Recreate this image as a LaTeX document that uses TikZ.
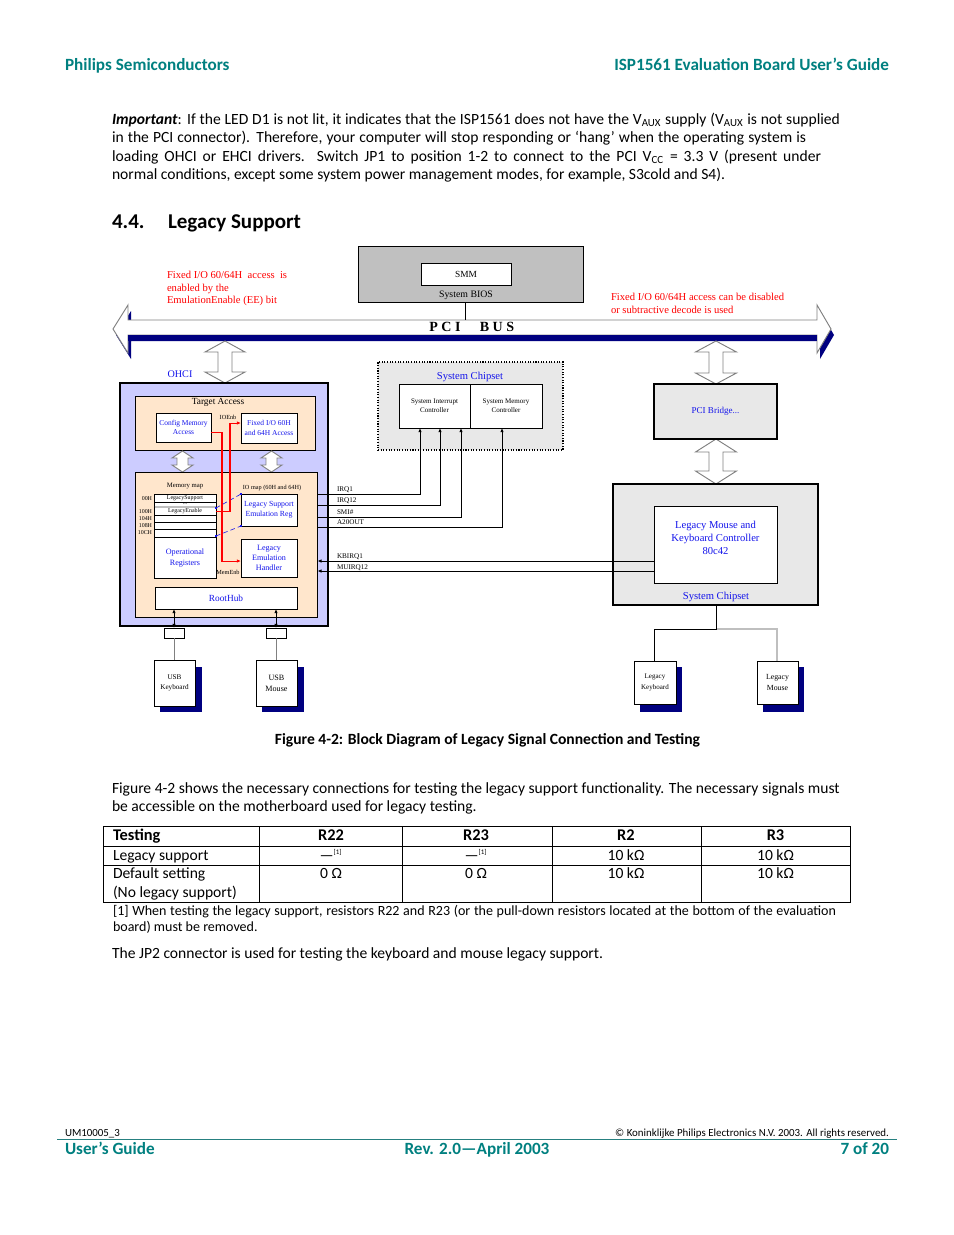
\documentclass[tikz,border=0pt]{standalone}
\usepackage{fontspec}
\setmainfont{Carlito}
\newfontfamily\dfont{Liberation Serif}
\usetikzlibrary{arrows.meta,fit}
\newdimen\px \px=0.6415pt
\definecolor{teal1}{RGB}{0,128,128}
\definecolor{navy1}{RGB}{0,0,128}
\definecolor{lav}{RGB}{204,204,255}
\definecolor{peach}{RGB}{255,230,204}
\definecolor{lgray}{RGB}{232,232,232}
\definecolor{mgray}{RGB}{192,192,192}
\definecolor{blue1}{RGB}{20,20,235}
\definecolor{red1}{RGB}{255,0,0}
\newcommand\dff[2]{\dfont\fontsize{#1}{#2}\selectfont}
\newcommand\vdarr[6]{%
 \draw[gray, fill=white, line width=0.6pt] (#1,#2) -- ({#1+#4},{#2+#6}) -- ({#1+#5},{#2+#6}) -- ({#1+#5},{#3-#6}) -- ({#1+#4},{#3-#6}) -- (#1,#3) -- ({#1-#4},{#3-#6}) -- ({#1-#5},{#3-#6}) -- ({#1-#5},{#2+#6}) -- ({#1-#4},{#2+#6}) -- cycle;}
\tikzset{
 txt/.style={inner sep=0pt, outer sep=0pt, anchor=base west, font=\fontsize{10}{12}\selectfont},
 box/.style={draw, fill=white, inner sep=0pt, outer sep=0pt, line width=0.6pt},
 lbl/.style={inner sep=0pt, outer sep=0pt, align=center},
 arr/.style={-{Latex[length=2.6pt,width=2.2pt]}},
 arrb/.style={{Latex[length=2.6pt,width=2.2pt]}-{Latex[length=2.6pt,width=2.2pt]}},
 sig/.style={line width=0.6pt},
 redl/.style={red1, line width=0.65pt},
 bdash/.style={blue1, densely dashed, line width=0.4pt}
}
\begin{document}
\begin{tikzpicture}[x=1\px,y=-1\px]
\fill[white] (0,0) rectangle (954,1235);
\useasboundingbox (0,0) rectangle (954,1235);

% ---------- header ----------
\node[txt, font=\fontsize{11}{13}\selectfont\bfseries, text=teal1] (h1) at (65,70) {Philips Semiconductors};
\node[txt, anchor=base east, font=\fontsize{11}{13}\selectfont\bfseries, text=teal1] (h2) at (889,70) {ISP1561 Evaluation Board User’s Guide};

% ---------- paragraph ----------
\node[txt] (p1) at (112,124) {\makebox[728\px][s]{\textbf{\textit{Important}}: If the LED D1 is not lit, it indicates that the ISP1561 does not have the V\textsubscript{AUX} supply (V\textsubscript{AUX} is not supplied}};
\node[txt] (p2) at (112,142) {\makebox[694\px][s]{in the PCI connector). Therefore, your computer will stop responding or ‘hang’ when the operating system is}};
\node[txt] (p3) at (112,161) {\makebox[709\px][s]{loading OHCI or EHCI drivers. Switch JP1 to position 1-2 to connect to the PCI V\textsubscript{CC} = 3.3 V (present under}};
\node[txt] (p4) at (112,179) {normal conditions, except some system power management modes, for example, S3cold and S4).};

\node[txt, font=\fontsize{13.5}{16}\selectfont\bfseries] (s1) at (112,228) {4.4.};
\node[txt, font=\fontsize{13.5}{16}\selectfont\bfseries] (s2) at (168,228) {Legacy Support};

% ---------- diagram: top ----------
\node[box, fill=mgray, fit={(358,246) (583,302)}] (smmo) {};
\node[box, fit={(421,263) (511,285)}] (smm) {};
\node[lbl, font=\dff{6}{7}] at (smm) {SMM};
\node[lbl, font=\dff{6.3}{7}] (bios) at (466,295) {System BIOS};

\node[lbl, anchor=west, align=left, text=red1, font=\dff{6.8}{8.3}] (rt1) at (167,288.5) {Fixed I/O 60/64H\ \ access\ \ is\\enabled by the\\EmulationEnable (EE) bit};
\node[lbl, anchor=west, align=left, text=red1, font=\dff{6.8}{8.3}] (rt2) at (611,303.5) {Fixed I/O 60/64H access can be disabled\\or subtractive decode is used};

% PCI bus
\fill[navy1] (116,335) -- (131,311) -- (131,326) -- (820,326) -- (820,311) -- (834,335) -- (820,359) -- (820,341) -- (131,341) -- (131,359) -- cycle;
\draw[gray, fill=white, line width=0.6pt] (113,329) -- (128,305) -- (128,320) -- (817,320) -- (817,305) -- (831,329) -- (817,353) -- (817,335) -- (128,335) -- (128,353) -- cycle;
\fill[navy1] (128,335) rectangle (817,341);
\node[lbl, font=\dff{9}{10}\bfseries] (pci) at (445,326.5) {P C I};
\node[lbl, font=\dff{9}{10}\bfseries] (bus) at (497,326.5) {B U S};
\coordinate (busy) at (465,320);
\draw[sig] (smmo.south -| busy) -- (busy);

% hollow double arrows
\vdarr{225}{341}{383}{20}{7}{11}
\vdarr{716}{341}{384}{20.5}{7}{11}
\vdarr{716}{439}{484}{20.5}{7}{13}

% ---------- OHCI ----------
\node[draw, fill=lav, line width=1.4pt, inner sep=0pt, fit={(120,383) (328,626)}] (ohci) {};
\node[lbl, text=blue1, font=\dff{6.5}{7}] (ohcit) at (180,374) {OHCI};
\node[draw, fill=peach, line width=0.6pt, inner sep=0pt, fit={(135,396) (315,450)}] (ta) {};
\node[lbl, font=\dff{6}{7}] (tat) at (218,402) {Target Access};
\node[box, fit={(156,413) (211,442)}] (cfg) {};
\node[lbl, text=blue1, font=\dff{4.8}{6.2}] at (cfg) {Config Memory\\Access};
\node[box, fit={(241,413) (297,443)}] (fio) {};
\node[lbl, text=blue1, font=\dff{4.8}{6.2}] at (fio) {Fixed I/O 60H\\and 64H Access};
\node[lbl, font=\dff{4}{5}] (ioenb) at (228,417) {IOEnb};

\vdarr{182.5}{451}{472}{10.5}{5.5}{7}
\vdarr{271.5}{451}{472}{10.5}{5.5}{7}

\node[draw, fill=peach, line width=0.6pt, inner sep=0pt, fit={(135,472) (317,617)}] (ohl) {};
\node[lbl, font=\dff{4.3}{5}] (mmt) at (185,486) {Memory map};
\node[box, fit={(154,494) (216,578)}] (mm) {};
\draw[lightgray, line width=1.2pt] (154.5,507) -- (215.5,507);
\foreach \yy in {502,515,522,529,537} \draw[line width=0.5pt] (154,\yy) -- (216,\yy);
\node[lbl, font=\dff{3.8}{4}] at (185,498) {LegacySupport};
\node[lbl, font=\dff{3.8}{4}] at (185,504) {...};
\node[lbl, font=\dff{3.8}{4}] at (185,511.5) {LegacyEnable};
\node[lbl, text=blue1, font=\dff{5.2}{6.5}] (opr) at (185,558) {Operational\\Registers};
\node[lbl, anchor=east, font=\dff{3.8}{4}] at (152,498.5) {00H};
\node[lbl, anchor=east, font=\dff{3.8}{4}] at (152,511.5) {100H};
\node[lbl, anchor=east, font=\dff{3.8}{4}] at (152,518.5) {104H};
\node[lbl, anchor=east, font=\dff{3.8}{4}] at (152,525.5) {108H};
\node[lbl, anchor=east, font=\dff{3.8}{4}] at (152,532.5) {10CH};

\node[lbl, font=\dff{4}{5}] (iom) at (272,488) {IO map (60H and 64H)};
\node[box, fit={(241,494) (297,526)}] (lse) {};
\node[lbl, text=blue1, font=\dff{5}{6.5}] at (lse) {Legacy Support\\Emulation Reg};
\node[box, fit={(241,539) (297,577)}] (leh) {};
\node[lbl, text=blue1, font=\dff{5.2}{6.3}] at (leh) {Legacy\\Emulation\\Handler};
\node[lbl, font=\dff{4}{5}] (memenb) at (228,572) {MemEnb};
\node[box, fit={(155,587) (297,609)}] (rh) {};
\node[lbl, text=blue1, font=\dff{6}{7}] at (rh) {RootHub};

% blue dashed IO map lines
\draw[bdash] (mm.east |- 0,508) -- (lse.north west);
\draw[bdash] (mm.east |- 0,536) -- (lse.south west);
\foreach \p in {(216,508),(241,494),(216,536),(241,526)} \fill[blue1] \p ++(-1.4,-1.4) rectangle ++(2.8,2.8);

% red enable lines
\draw[redl, arr] (cfg.east |- 0,432) -- (222,432) -- (222,561) -- (leh.west |- 0,561);
\draw[redl, arr] (mm.east |- 0,511) -- (230,511) -- (230,423) -- (fio.west |- 0,423);

% ports and USB devices
\node[box, fit={(164,628) (184,638)}] (c1) {};
\node[box, fit={(266,628) (286,638)}] (c2) {};
\draw[arrb, line width=0.6pt] (c1.north |- rh.south) -- (c1.north);
\draw[arrb, line width=0.6pt] (c2.north |- rh.south) -- (c2.north);
\fill[navy1] (160,667) rectangle (202,712);
\node[box, fit={(154,660) (195,706)}] (uk) {};
\node[lbl, font=\dff{4.6}{6.5}] at (uk) {USB\\Keyboard};
\fill[navy1] (262,667) rectangle (304,712);
\node[box, fit={(256,660) (297,706)}] (um) {};
\node[lbl, font=\dff{5.2}{7}] at (um) {USB\\Mouse};
\draw[gray, line width=0.6pt] (c1.south) -- (uk.north -| c1.south);
\draw[gray, line width=0.6pt] (c2.south) -- (um.north -| c2.south);

% ---------- middle system chipset ----------
\node[draw, fill=lgray, densely dotted, line width=0.7pt, inner sep=0pt, fit={(378,362) (563,450)}] (msc) {};
\node[lbl, text=blue1, font=\dff{6.8}{8}] (msct) at (470,377) {System Chipset};
\node[box, fit={(399,384) (470,428)}] (sic) {};
\node[lbl, font=\dff{4.5}{6}] at (sic) {System Interrupt\\Controller};
\node[box, fit={(470,384) (542,428)}] (smc) {};
\node[lbl, font=\dff{4.5}{6}] at (smc) {System Memory\\Controller};

% signal lines
\draw[sig, arr] (ohl.east |- 0,494) -| (sic.south -| 420,0);
\draw[sig, arr] (ohl.east |- 0,505) -| (sic.south -| 440,0);
\draw[sig, arr] (ohl.east |- 0,517) -| (sic.south -| 461,0);
\draw[sig, arr] (ohl.east |- 0,527) -| (smc.south -| 502,0);
\node[lbl, anchor=base west, font=\dff{4.6}{5}] at (337,491) {IRQ1};
\node[lbl, anchor=base west, font=\dff{4.6}{5}] at (337,502) {IRQ12};
\node[lbl, anchor=base west, font=\dff{4.6}{5}] at (337,514) {SMI\#};
\node[lbl, anchor=base west, font=\dff{4.6}{5}] at (337,524.5) {A20OUT};

% ---------- right side ----------
\node[draw, fill=lgray, line width=0.7pt, inner sep=0pt, fit={(654,384) (777,439)}] (pcib) {};
\node[lbl, text=blue1, font=\dff{5.8}{7}] at (pcib) {PCI Bridge...};
\node[draw, fill=lgray, line width=1.4pt, inner sep=0pt, fit={(613,484) (818,605)}] (rsc) {};
\node[box, fit={(654,506) (777,583)}] (lmk) {};
\node[lbl, text=blue1, font=\dff{6.8}{8.3}] at (715.5,538) {Legacy Mouse and\\Keyboard Controller\\80c42};
\node[lbl, text=blue1, font=\dff{6.8}{8}] (rsct) at (716,597) {System Chipset};

\draw[sig, arr] (lmk.west |- 0,561) -- (ohl.east |- 0,561);
\draw[sig, arr] (lmk.west |- 0,571) -- (ohl.east |- 0,571);
\node[lbl, anchor=base west, font=\dff{4.6}{5}] at (337,558.5) {KBIRQ1};
\node[lbl, anchor=base west, font=\dff{4.6}{5}] at (337,569) {MUIRQ12};

\fill[navy1] (640,667) rectangle (682,712);
\node[box, fit={(634,661) (676,704)}] (lk) {};
\node[lbl, font=\dff{4.5}{6.5}] at (lk) {Legacy\\Keyboard};
\fill[navy1] (763,667) rectangle (804,712);
\node[box, fit={(757,661) (798,704)}] (lm) {};
\node[lbl, font=\dff{5}{7}] at (lm) {Legacy\\Mouse};
\coordinate (jn) at (716,629);
\draw[gray!50, line width=0.7pt] (jn) -| (lm.north -| 777,0);
\draw[sig] (rsc.south -| jn) -- (jn) -| (lk.north -| 654,0);

% ---------- caption and text ----------
\node[txt, anchor=base, font=\fontsize{10}{12}\selectfont\bfseries] (cap) at (487.5,744) {Figure 4-2: Block Diagram of Legacy Signal Connection and Testing};
\node[txt] (q1) at (112,793) {Figure 4-2 shows the necessary connections for testing the legacy support functionality. The necessary signals must};
\node[txt] (q2) at (112,811) {be accessible on the motherboard used for legacy testing.};

% ---------- table ----------
\draw[line width=0.6pt] (103,826) rectangle (850,902);
\draw[line width=0.6pt] (103,846) -- (850,846);
\draw[line width=0.6pt] (103,865) -- (850,865);
\foreach \xx in {259,402,552,701} \draw[line width=0.6pt] (\xx,826) -- (\xx,902);
\node[txt, font=\fontsize{10.5}{12}\selectfont\bfseries] at (113,840.5) {Testing};
\node[txt, anchor=base, font=\fontsize{10.5}{12}\selectfont\bfseries] at (331,840.5) {R22};
\node[txt, anchor=base, font=\fontsize{10.5}{12}\selectfont\bfseries] at (476,840.5) {R23};
\node[txt, anchor=base, font=\fontsize{10.5}{12}\selectfont\bfseries] at (626,840.5) {R2};
\node[txt, anchor=base, font=\fontsize{10.5}{12}\selectfont\bfseries] at (775.5,840.5) {R3};
\node[txt] at (113,860) {Legacy support};
\node[txt, anchor=base] at (331,860) {—\textsuperscript{\fontsize{4.5}{5}\selectfont[1]}};
\node[txt, anchor=base] at (476,860) {—\textsuperscript{\fontsize{4.5}{5}\selectfont[1]}};
\node[txt, anchor=base] at (626,860) {10 kΩ};
\node[txt, anchor=base] at (775.5,860) {10 kΩ};
\node[txt] at (113,878.5) {Default setting};
\node[txt] at (113,897) {(No legacy support)};
\node[txt, anchor=base] at (331,878.5) {0 Ω};
\node[txt, anchor=base] at (476,878.5) {0 Ω};
\node[txt, anchor=base] at (626,878.5) {10 kΩ};
\node[txt, anchor=base] at (775.5,878.5) {10 kΩ};
\node[txt, font=\fontsize{9}{11}\selectfont] at (113,915) {\makebox[723\px][s]{[1] When testing the legacy support, resistors R22 and R23 (or the pull-down resistors located at the bottom of the evaluation}};
\node[txt, font=\fontsize{9}{11}\selectfont] at (113,931) {board) must be removed.};
\node[txt] (q3) at (112,958) {The JP2 connector is used for testing the keyboard and mouse legacy support.};

% ---------- footer ----------
\node[txt, font=\fontsize{7}{8}\selectfont] (f1) at (65,1136) {UM10005\_3};
\node[txt, anchor=base east, font=\fontsize{7}{8}\selectfont] (f2) at (889,1136) {© Koninklijke Philips Electronics N.V. 2003. All rights reserved.};
\draw[teal1!70!gray, line width=0.6pt] (57,1139.5) -- (897,1139.5);
\node[txt, font=\fontsize{11}{13}\selectfont\bfseries, text=teal1] (f3) at (65,1154) {User’s Guide};
\node[txt, anchor=base, font=\fontsize{11}{13}\selectfont\bfseries, text=teal1] (f4) at (477,1154) {Rev. 2.0—April 2003};
\node[txt, anchor=base east, font=\fontsize{11}{13}\selectfont\bfseries, text=teal1] (f5) at (889,1154) {7 of 20};
\end{tikzpicture}
\end{document}
